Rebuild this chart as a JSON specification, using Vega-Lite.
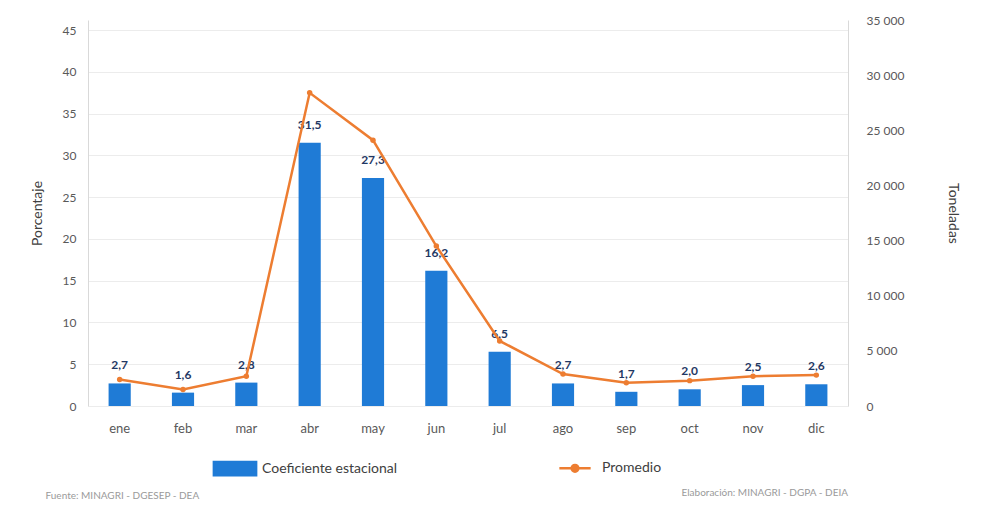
{
  "$schema": "https://vega.github.io/schema/vega-lite/v6.json",
  "width": 760,
  "height": 386,
  "autosize": {"type": "none"},
  "padding": {"left": 88, "top": 20, "right": 134, "bottom": 104},
  "background": "white",
  "config": {"font": "Lato", "view": {"stroke": null}},
  "title": {"text": "Elaboración: MINAGRI - DGPA - DEIA", "orient": "bottom", "anchor": "end", "frame": "group", "fontSize": 10, "fontWeight": "normal", "color": "#9a9a9a", "offset": 4, "dy": -16},
  "data": {"values": [
    {"mes": "ene", "coef": 2.7, "label": "2,7", "ton": 2400},
    {"mes": "feb", "coef": 1.6, "label": "1,6", "ton": 1500},
    {"mes": "mar", "coef": 2.8, "label": "2,8", "ton": 2700},
    {"mes": "abr", "coef": 31.5, "label": "31,5", "ton": 28400},
    {"mes": "may", "coef": 27.3, "label": "27,3", "ton": 24100},
    {"mes": "jun", "coef": 16.2, "label": "16,2", "ton": 14500},
    {"mes": "jul", "coef": 6.5, "label": "6,5", "ton": 5900},
    {"mes": "ago", "coef": 2.7, "label": "2,7", "ton": 2900},
    {"mes": "sep", "coef": 1.7, "label": "1,7", "ton": 2100},
    {"mes": "oct", "coef": 2.0, "label": "2,0", "ton": 2300},
    {"mes": "nov", "coef": 2.5, "label": "2,5", "ton": 2700},
    {"mes": "dic", "coef": 2.6, "label": "2,6", "ton": 2800}
  ]},
  "encoding": {
    "x": {
      "field": "mes", "type": "ordinal", "sort": null,
      "scale": {"paddingInner": 0.65, "paddingOuter": 0.325},
      "axis": {
        "title": "Fuente: MINAGRI - DGESEP - DEA", "titleX": -43, "titleY": 84, "titleAlign": "left", "titleAnchor": null,
        "titleFontSize": 10, "titleFontWeight": "normal", "titleColor": "#9a9a9a",
        "labelAngle": 0, "labelFontSize": 13, "labelColor": "#595959", "labelPadding": 16,
        "ticks": false, "domain": false
      }
    }
  },
  "layer": [
    {
      "encoding": {
        "y": {
          "field": "coef", "type": "quantitative",
          "scale": {"domain": [0, 46.2], "nice": false},
          "axis": {
            "title": "Porcentaje", "titleFontSize": 14, "titleFontWeight": "normal", "titleColor": "#404040", "titlePadding": 18,
            "values": [0, 5, 10, 15, 20, 25, 30, 35, 40, 45],
            "labelFontSize": 12, "labelColor": "#595959", "labelPadding": 12,
            "ticks": false, "domainColor": "#d9d9d9", "gridColor": "#ececec"
          }
        }
      },
      "layer": [
        {
          "mark": {"type": "bar"},
          "encoding": {
            "color": {"datum": "Coeficiente estacional", "type": "nominal",
              "scale": {"domain": ["Coeficiente estacional", "Promedio"], "range": ["#1f7bd6", "#ed7d31"]},
              "legend": {
                "orient": "none", "legendX": 140, "legendY": 441, "direction": "horizontal", "title": null,
                "symbolSize": 2000, "columnPadding": 156, "labelFontSize": 14, "labelColor": "#404040", "labelOffset": 20,
                "encode": {"symbols": {"update": {
                  "shape": {"signal": "datum.value === 'Promedio' ? 'M-0.7,0H0.7M-0.15,0a0.15,0.15 0 1,0 0.3,0a0.15,0.15 0 1,0 -0.3,0' : 'M-1,-0.35H1V0.35H-1Z'"},
                  "fill": {"signal": "datum.value === 'Promedio' ? '#e2572a' : '#1f7bd6'"},
                  "stroke": {"signal": "datum.value === 'Promedio' ? '#ed7d31' : '#1f7bd6'"},
                  "strokeWidth": {"signal": "datum.value === 'Promedio' ? 2.5 : 0"},
                  "fillOpacity": {"value": 1},
                  "opacity": {"value": 1}
                }}}
              }
            }
          }
        },
        {
          "mark": {"type": "text", "baseline": "middle", "dy": -18, "fontSize": 12, "fontWeight": "bold", "color": "#1f3864"},
          "encoding": {"text": {"field": "label"}}
        }
      ]
    },
    {
      "mark": {"type": "line", "strokeWidth": 2.5, "point": {"filled": true, "size": 30, "color": "#e2572a"}},
      "encoding": {
        "y": {
          "field": "ton", "type": "quantitative",
          "scale": {"domain": [0, 35000], "nice": false},
          "axis": {
            "orient": "right", "title": "Toneladas", "titleAngle": 90, "titleFontSize": 14, "titleFontWeight": "normal", "titleColor": "#404040", "titlePadding": 42,
            "values": [0, 5000, 10000, 15000, 20000, 25000, 30000, 35000],
            "labelExpr": "replace(format(datum.value, ','), ',', ' ')",
            "labelFontSize": 12, "labelColor": "#595959", "labelPadding": 18,
            "ticks": false, "grid": false, "domainColor": "#d9d9d9"
          }
        },
        "color": {"datum": "Promedio", "type": "nominal"}
      }
    }
  ],
  "resolve": {"scale": {"y": "independent"}}
}
